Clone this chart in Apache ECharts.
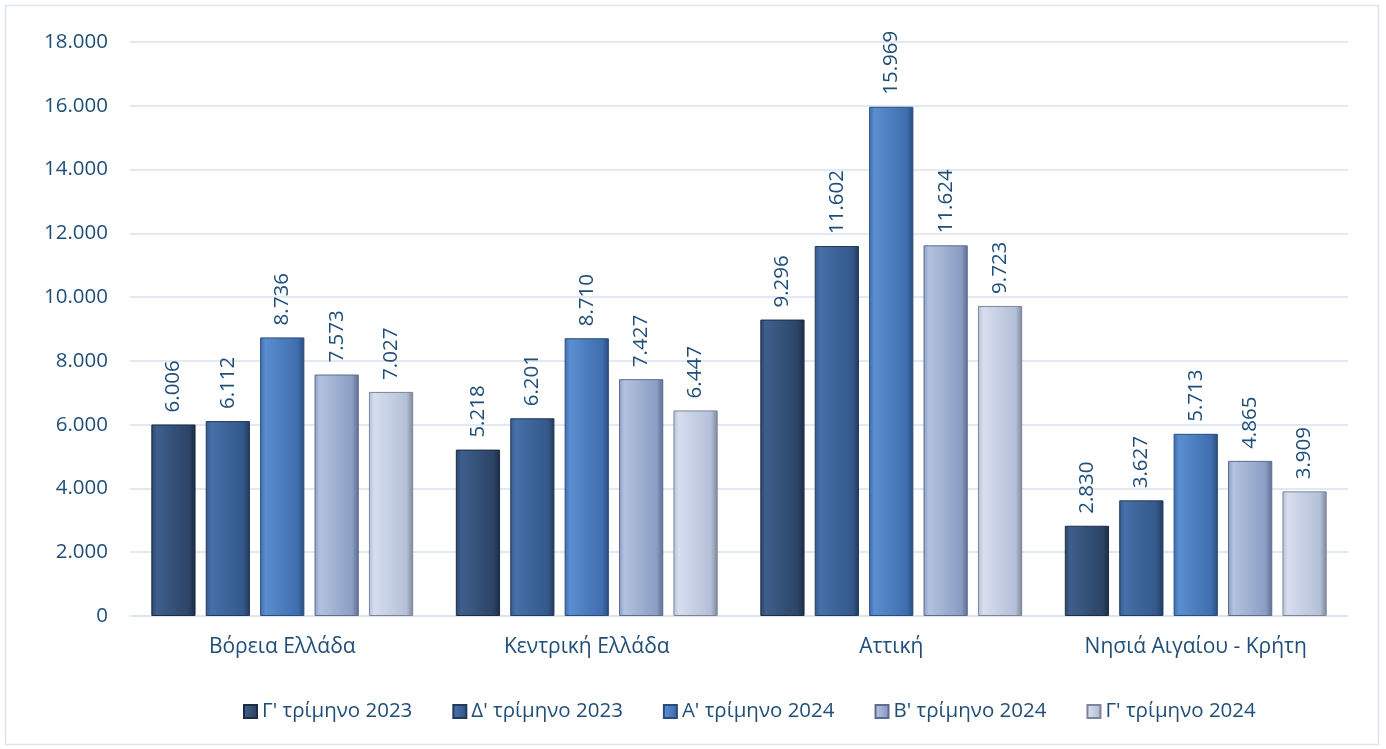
<!DOCTYPE html>
<html><head><meta charset="utf-8">
<script src="https://cdn.jsdelivr.net/npm/echarts@6/dist/echarts.min.js"></script>
<style>html,body{margin:0;padding:0;background:#fff}#c{width:1386px;height:749px}</style>
</head><body><div id="c"></div>
<script>
const categories = ['Βόρεια Ελλάδα', 'Κεντρική Ελλάδα', 'Αττική', 'Νησιά Αιγαίου - Κρήτη'];
const seriesNames = ["Γ' τρίμηνο 2023", "Δ' τρίμηνο 2023", "Α' τρίμηνο 2024", "Β' τρίμηνο 2024", "Γ' τρίμηνο 2024"];
const q3_2023 = [6006, 5218, 9296, 2830];
const q4_2023 = [6112, 6201, 11602, 3627];
const q1_2024 = [8736, 8710, 15969, 5713];
const q2_2024 = [7573, 7427, 11624, 4865];
const q3_2024 = [7027, 6447, 9723, 3909];
const yTicks = [0, 2000, 4000, 6000, 8000, 10000, 12000, 14000, 16000, 18000];

const values = [q3_2023, q4_2023, q1_2024, q2_2024, q3_2024];
const baseColors = [
  ['#2c4466', '#3d5f8c', '#1c2c44'],
  ['#34588a', '#4670a8', '#22395a'],
  ['#3f6eae', '#5a8ed0', '#2a4c7c'],
  ['#8b9dc4', '#b3c2e0', '#5d6d90'],
  ['#b4c0d8', '#d6deee', '#7c8698']
];
const fmt = v => v.toLocaleString('de-DE');
const font = '"Open Sans", "Noto Sans", sans-serif';
const txt = '#1f4e79';
const fs = 20.5;

const chart = echarts.init(document.getElementById('c'));
chart.setOption({
  animation: false,
  graphic: [{type: 'rect', shape: {x: 5.5, y: 5.5, width: 1373, height: 739}, style: {fill: 'none', stroke: '#dbe4f1', lineWidth: 1.5}, z: -1}],
  legend: {
    bottom: 22, left: 238, itemWidth: 13, itemHeight: 13, itemGap: 40, icon: 'rect',
    textStyle: {color: txt, fontSize: fs, fontFamily: font},
    data: seriesNames
  },
  grid: {left: 130, right: 38, top: 42, bottom: 133},
  xAxis: {
    type: 'category', data: categories,
    axisLine: {lineStyle: {color: '#d9e2f0', width: 1.5}},
    axisTick: {show: false},
    axisLabel: {color: txt, fontSize: 21, fontFamily: font, margin: 21}
  },
  yAxis: {
    type: 'value', min: 0, max: 18000, interval: 2000,
    axisLine: {show: false}, axisTick: {show: false},
    splitLine: {lineStyle: {color: '#d9e2f0', width: 1.5}},
    axisLabel: {color: txt, fontSize: fs, fontFamily: font, margin: 22, formatter: v => fmt(v)}
  },
  series: values.map((d, i) => ({
    name: seriesNames[i], type: 'bar', data: d,
    barGap: '23%', barCategoryGap: '14%',
    itemStyle: {
      color: new echarts.graphic.LinearGradient(0, 0, 1, 0, [
        {offset: 0, color: baseColors[i][0]},
        {offset: 0.12, color: baseColors[i][1]},
        {offset: 0.85, color: baseColors[i][0]},
        {offset: 1, color: baseColors[i][2]}
      ]),
      borderColor: baseColors[i][2], borderWidth: 1
    },
    label: {
      show: true, position: 'top', rotate: 90, align: 'left', verticalAlign: 'middle',
      distance: 12, color: txt, fontSize: fs, fontFamily: font,
      formatter: p => fmt(p.value)
    }
  }))
});
</script></body></html>
